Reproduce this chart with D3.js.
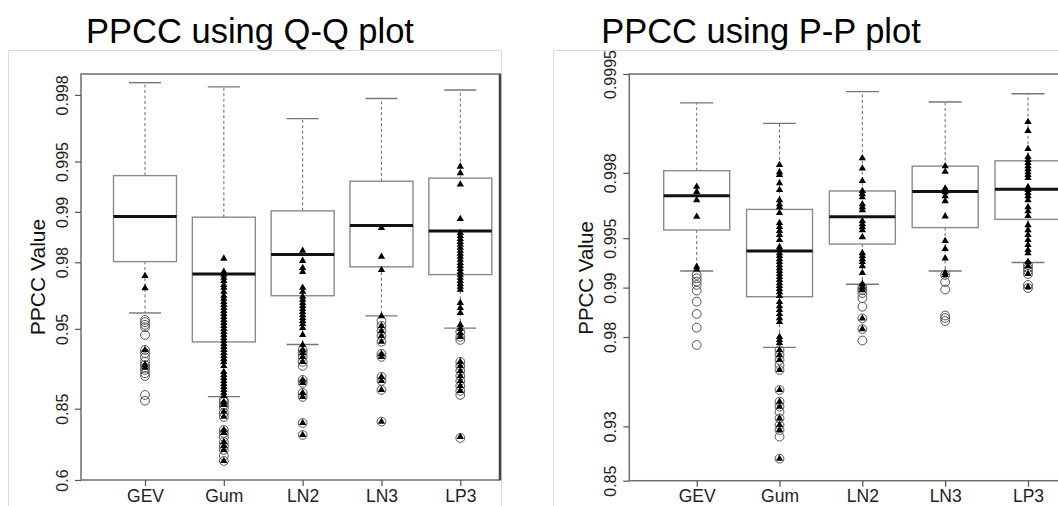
<!DOCTYPE html>
<html><head><meta charset="utf-8">
<script src="https://cdn.jsdelivr.net/npm/d3@7"></script>
<style>body{margin:0;background:#fff} svg{display:block;font-family:"Liberation Sans",Arial,sans-serif}</style>
</head><body><svg id="c" width="1058" height="506"></svg>
<script>
// ---------------- DATA ----------------
const categories = ["GEV", "Gum", "LN2", "LN3", "LP3"];

// Panel 1: PPCC using Q-Q plot
const qqTicks = [0.6, 0.85, 0.95, 0.98, 0.99, 0.995, 0.998];
const qqTickLabels = ["0.6", "0.85", "0.95", "0.98", "0.99", "0.995", "0.998"];
const qqHigh   = [0.99831, 0.99821, 0.99723, 0.99790, 0.99813];
const qqQ3     = [0.99393, 0.98924, 0.99014, 0.99344, 0.99371];
const qqMedian = [0.98933, 0.97651, 0.98205, 0.98795, 0.98700];
const qqQ1     = [0.98018, 0.94015, 0.9683, 0.9787, 0.9763];
const qqLow    = [0.95982, 0.8729, 0.9380, 0.9582, 0.9505];
const qqOutliers = [
  [0.9558, 0.9544, 0.9527, 0.9511, 0.9456, 0.9332, 0.9300, 0.9261, 0.9215, 0.9178, 0.9147, 0.9120, 0.9079, 0.9044, 0.8759, 0.8657],
  [0.8671, 0.8634, 0.8576, 0.8516, 0.8411, 0.8321, 0.7991, 0.7906, 0.7787, 0.7630, 0.7496, 0.7354, 0.7126, 0.6921],
  [0.9333, 0.9304, 0.9265, 0.9213, 0.9168, 0.8991, 0.8948, 0.8793, 0.8725, 0.8176, 0.7847],
  [0.9552, 0.9520, 0.9486, 0.9449, 0.9403, 0.9295, 0.9265, 0.9032, 0.8977, 0.8842, 0.8208],
  [0.9479, 0.9442, 0.9418, 0.9213, 0.9168, 0.9109, 0.9045, 0.8977, 0.8904, 0.8826, 0.8759, 0.7757]
];
const qqTriangles = [
  [0.97585, 0.97142, 0.9332, 0.9180, 0.9150],
  [0.9810, 0.9772, 0.9763, 0.9753, 0.9742, 0.9727, 0.9716, 0.9700, 0.9683, 0.9670, 0.9655, 0.9641, 0.9625, 0.9609, 0.9593, 0.9576, 0.9558, 0.9540, 0.9520, 0.9500, 0.9479, 0.9457, 0.9434, 0.9411, 0.9386, 0.9360, 0.9333, 0.9304, 0.9275, 0.9244, 0.9213, 0.9168, 0.9096, 0.9058, 0.9018, 0.8977, 0.8934, 0.8889, 0.8842, 0.8793, 0.8742, 0.8634, 0.8576, 0.8438, 0.8327, 0.7991, 0.7906, 0.7630, 0.7496, 0.7354, 0.6921],
  [0.98295, 0.9804, 0.9784, 0.9772, 0.9716, 0.9700, 0.9679, 0.9665, 0.9650, 0.9636, 0.9620, 0.9604, 0.9587, 0.9570, 0.9552, 0.9533, 0.9507, 0.9457, 0.9377, 0.9333, 0.9304, 0.9265, 0.9213, 0.8991, 0.8948, 0.8793, 0.8725, 0.8176, 0.7847],
  [0.98753, 0.98148, 0.9778, 0.9580, 0.9520, 0.9486, 0.9449, 0.9403, 0.9295, 0.9265, 0.9032, 0.8977, 0.8842, 0.8208],
  [0.99464, 0.99413, 0.99315, 0.98898, 0.98664, 0.98608, 0.98549, 0.98488, 0.98432, 0.98366, 0.98295, 0.98223, 0.98148, 0.9807, 0.9798, 0.9790, 0.9781, 0.9772, 0.9763, 0.9753, 0.9742, 0.9731, 0.9720, 0.9708, 0.9650, 0.9625, 0.9599, 0.9527, 0.9500, 0.9471, 0.9442, 0.9213, 0.9168, 0.9109, 0.9045, 0.8977, 0.8904, 0.8826, 0.7787]
];

// Panel 2: PPCC using P-P plot
const ppTicks = [0.85, 0.93, 0.98, 0.99, 0.995, 0.998, 0.9995];
const ppTickLabels = ["0.85", "0.93", "0.98", "0.99", "0.995", "0.998", "0.9995"];
const ppHigh   = [0.99925, 0.99900, 0.99936, 0.99926, 0.99934];
const ppQ3     = [0.99806, 0.99666, 0.99742, 0.99818, 0.99831];
const ppMedian = [0.99724, 0.99401, 0.99630, 0.99740, 0.99748];
const ppQ1     = [0.99554, 0.98864, 0.99457, 0.99569, 0.99616];
const ppLow    = [0.99208, 0.97689, 0.99045, 0.99208, 0.99297];
const ppOutliers = [
  [0.99163, 0.99123, 0.99081, 0.99037, 0.98957, 0.98783, 0.98553, 0.98246, 0.97765],
  [0.97602, 0.97428, 0.97241, 0.97041, 0.96826, 0.95797, 0.95048, 0.94688, 0.94278, 0.9375, 0.93133, 0.92634, 0.91908, 0.88983],
  [0.99008, 0.98965, 0.98921, 0.98838, 0.98693, 0.98461, 0.98212, 0.97900],
  [0.99163, 0.99075, 0.98973, 0.98521, 0.98468, 0.98402],
  [0.99271, 0.99240, 0.99208, 0.99174, 0.99037, 0.98994]
];
const ppTriangles = [
  [0.99757, 0.99739, 0.99707, 0.99630, 0.99254, 0.99226],
  [0.99821, 0.99802, 0.99794, 0.99769, 0.99746, 0.99707, 0.99690, 0.99677, 0.99649, 0.99596, 0.99573, 0.99548, 0.99522, 0.99487, 0.99434, 0.99410, 0.99384, 0.99358, 0.99330, 0.99302, 0.99271, 0.99240, 0.99208, 0.99174, 0.99138, 0.99101, 0.99062, 0.99022, 0.98980, 0.98936, 0.98875, 0.98776, 0.98705, 0.98631, 0.98553, 0.98468, 0.98380, 0.98001, 0.97915, 0.97825, 0.97602, 0.97428, 0.97241, 0.96826, 0.95797, 0.95048, 0.94688, 0.9375, 0.93133, 0.92634, 0.88983],
  [0.99837, 0.99812, 0.99776, 0.99742, 0.99731, 0.99719, 0.99690, 0.99677, 0.99663, 0.99607, 0.99590, 0.99573, 0.99554, 0.99508, 0.99384, 0.99358, 0.99330, 0.99302, 0.99261, 0.99185, 0.99049, 0.99008, 0.98965, 0.98461, 0.98212],
  [0.99818, 0.99803, 0.99751, 0.99738, 0.99723, 0.99703, 0.99632, 0.99480, 0.99418, 0.99337, 0.99185, 0.99163],
  [0.99902, 0.99889, 0.99857, 0.99840, 0.99833, 0.99826, 0.99818, 0.99810, 0.99802, 0.99794, 0.99785, 0.99756, 0.99746, 0.99735, 0.99723, 0.99707, 0.99677, 0.99658, 0.99634, 0.99584, 0.99554, 0.99522, 0.99487, 0.99450, 0.99410, 0.99384, 0.99302, 0.99261, 0.99174, 0.99008]
];

// ---------------- LAYOUT ----------------
const svg = d3.select("#c");
svg.append("rect").attr("width", 1058).attr("height", 506).attr("fill", "#fff");

const panels = [
  { title: "PPCC using Q-Q plot", titleX: 250, frame: [8.5, 50.5, 493, 470],
    left: 81, right: 500, top: 74, bottom: 480, xRange: [145, 460.3], domain: [0.6, 0.9985],
    boxW: 63, capW: 32, ylabX: 45, ylabY: 277, ylabSize: 21,
    ticks: qqTicks, tickLabels: qqTickLabels,
    high: qqHigh, q3: qqQ3, med: qqMedian, q1: qqQ1, low: qqLow, outliers: qqOutliers, tri: qqTriangles },
  { title: "PPCC using P-P plot", titleX: 761, frame: [553.5, 50.5, 520, 470],
    left: 629.3, right: 1080, top: 74, bottom: 480.7, xRange: [696.7, 1028], domain: [0.85, 0.9995],
    boxW: 66, capW: 33, ylabX: 593, ylabY: 278, ylabSize: 20.5,
    ticks: ppTicks, tickLabels: ppTickLabels,
    high: ppHigh, q3: ppQ3, med: ppMedian, q1: ppQ1, low: ppLow, outliers: ppOutliers, tri: ppTriangles }
];

const triPath = d3.symbol(d3.symbolTriangle, 23)();

panels.forEach((p, pi) => {
  const g = svg.append("g");
  g.append("rect").attr("x", p.frame[0]).attr("y", p.frame[1]).attr("width", p.frame[2]).attr("height", p.frame[3])
    .attr("fill", "none").attr("stroke", "#dcdcdc").attr("stroke-width", 1);

  g.append("text").attr("x", p.titleX).attr("y", 42.5).attr("text-anchor", "middle")
    .attr("font-size", 34.5).attr("fill", "#000").text(p.title);

  const x = d3.scalePoint().domain(categories).range(p.xRange);
  const yl = d3.scaleLog().domain([1 - p.domain[0], 1 - p.domain[1]]).range([p.bottom, p.top]);
  const y = v => yl(1 - v);

  // plot box
  g.append("rect").attr("x", p.left).attr("y", p.top).attr("width", p.right - p.left).attr("height", p.bottom - p.top)
    .attr("fill", "none").attr("stroke", "#6e6e6e").attr("stroke-width", 1.5);
  if (pi === 0) {
    g.append("line").attr("x1", p.right).attr("x2", p.right).attr("y1", p.top).attr("y2", p.bottom)
      .attr("stroke", "#444").attr("stroke-width", 2.5);
  }

  // y axis
  const ya = g.append("g").attr("transform", `translate(${p.left},0)`)
    .call(d3.axisLeft(yl).tickValues(p.ticks.map(v => 1 - v)).tickFormat((d, i) => p.tickLabels[i]).tickSize(6).tickSizeOuter(0));
  ya.select(".domain").remove();
  ya.selectAll(".tick line").attr("stroke", "#555").attr("stroke-width", 1.2);
  ya.selectAll(".tick text").attr("transform", "rotate(-90)").attr("x", 0).attr("y", -13).attr("dy", null)
    .attr("text-anchor", "middle").attr("font-size", 16).attr("fill", "#222")
    .style("font-family", '"Liberation Sans", Arial, sans-serif');

  // x axis
  const xa = g.append("g").attr("transform", `translate(0,${p.bottom})`)
    .call(d3.axisBottom(x).tickSize(6).tickSizeOuter(0));
  xa.select(".domain").remove();
  xa.selectAll(".tick line").attr("stroke", "#555").attr("stroke-width", 1.2);
  xa.selectAll(".tick text").attr("y", 21.5).attr("dy", null).attr("font-size", 17.5).attr("fill", "#222")
    .style("font-family", '"Liberation Sans", Arial, sans-serif');

  // y label
  g.append("text").attr("transform", `translate(${p.ylabX},${p.ylabY}) rotate(-90)`).attr("text-anchor", "middle")
    .attr("font-size", p.ylabSize).attr("fill", "#111").text("PPCC Value");

  // boxes
  categories.forEach((c, i) => {
    const cx = x(c);
    const bg = g.append("g");
    bg.append("line").attr("x1", cx).attr("x2", cx).attr("y1", y(p.q3[i])).attr("y2", y(p.high[i]))
      .attr("stroke", "#777").attr("stroke-dasharray", "3,2.5").attr("stroke-width", 1.1);
    bg.append("line").attr("x1", cx).attr("x2", cx).attr("y1", y(p.q1[i])).attr("y2", y(p.low[i]))
      .attr("stroke", "#777").attr("stroke-dasharray", "3,2.5").attr("stroke-width", 1.1);
    [p.high[i], p.low[i]].forEach(v => {
      bg.append("line").attr("x1", cx - p.capW / 2).attr("x2", cx + p.capW / 2).attr("y1", y(v)).attr("y2", y(v))
        .attr("stroke", "#777").attr("stroke-width", 1.4);
    });
    bg.append("rect").attr("x", cx - p.boxW / 2).attr("y", y(p.q3[i])).attr("width", p.boxW)
      .attr("height", y(p.q1[i]) - y(p.q3[i])).attr("fill", "none").attr("stroke", "#8a8a8a").attr("stroke-width", 1.4);
    bg.append("line").attr("x1", cx - p.boxW / 2).attr("x2", cx + p.boxW / 2).attr("y1", y(p.med[i])).attr("y2", y(p.med[i]))
      .attr("stroke", "#111").attr("stroke-width", 3);
    // outliers
    bg.selectAll("circle.o").data(p.outliers[i]).join("circle").attr("class", "o")
      .attr("cx", cx).attr("cy", d => y(d)).attr("r", 4.4)
      .attr("fill", "none").attr("stroke", "#555").attr("stroke-width", 1);
    // triangles
    bg.selectAll("path.t").data(p.tri[i]).join("path").attr("class", "t")
      .attr("d", triPath).attr("transform", d => `translate(${cx},${y(d)})`).attr("fill", "#000");
  });
});
</script></body></html>
